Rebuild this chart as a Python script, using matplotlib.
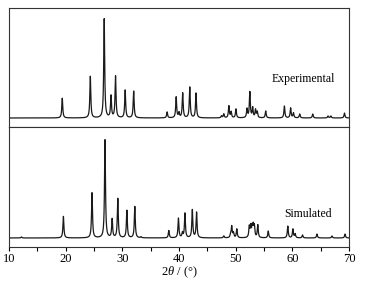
import numpy as np
import matplotlib.pyplot as plt

plt.rcParams['font.family'] = ['Liberation Serif', 'DejaVu Serif']
plt.rcParams['mathtext.fontset'] = 'custom'
plt.rcParams['mathtext.rm'] = 'Liberation Serif'
plt.rcParams['mathtext.it'] = 'Liberation Serif:italic'

# --------- peak lists (2theta, relative height) ---------
exp_pos = [19.4, 24.35, 26.8, 28.0, 28.8, 30.5, 32.0, 37.9, 39.5, 40.0, 40.65, 41.9, 43.0,
           47.5, 47.9, 48.8, 49.2, 50.05, 52.0, 52.5, 53.0, 53.5, 53.8, 55.3,
           58.6, 59.7, 60.2, 61.3, 63.6, 66.3, 66.8, 69.2]
exp_int = [0.20, 0.42, 1.00, 0.22, 0.42, 0.28, 0.27, 0.06, 0.21, 0.05, 0.25, 0.31, 0.25,
           0.02, 0.04, 0.12, 0.06, 0.09, 0.09, 0.26, 0.10, 0.08, 0.06, 0.07,
           0.12, 0.10, 0.05, 0.04, 0.04, 0.02, 0.02, 0.05]

sim_pos = [12.2, 19.6, 24.65, 26.94, 28.2, 29.2, 30.8, 32.2, 33.3, 38.2, 39.9, 40.6, 41.05,
           42.35, 43.1, 47.9, 49.1, 49.3, 49.6, 50.2, 52.4, 52.65, 52.9, 53.1, 53.3,
           53.9, 55.75, 59.2, 60.1, 60.5, 61.8, 64.35, 67.0, 69.3]
sim_int = [0.01, 0.22, 0.46, 1.00, 0.19, 0.40, 0.28, 0.32, 0.01, 0.075, 0.20, 0.05, 0.25,
           0.285, 0.26, 0.02, 0.03, 0.115, 0.05, 0.09, 0.11, 0.11, 0.10, 0.11, 0.11,
           0.13, 0.07, 0.12, 0.09, 0.04, 0.03, 0.04, 0.02, 0.04]

x_ticks = [10, 20, 30, 40, 50, 60, 70]


def profile(tt, positions, heights, fwhm=0.2):
    g = fwhm / 2
    y = np.zeros_like(tt)
    for p, h in zip(positions, heights):
        y += h * g**2 / ((tt - p)**2 + g**2)
    return y


tt = np.linspace(10, 70, 6001)

fig = plt.figure(figsize=(3.66, 2.82), dpi=100)
ax_top = fig.add_axes([9/366, 1 - 127/282, 340/366, 119/282])
ax_bot = fig.add_axes([9/366, 1 - 247/282, 340/366, 120/282])

for ax, pos, inten, label, lx, ly in [(ax_top, exp_pos, exp_int, 'Experimental', 0.865, 0.40),
                                      (ax_bot, sim_pos, sim_int, 'Simulated', 0.879, 0.275)]:
    ax.plot(tt, profile(tt, pos, inten), color='#1a1a1a', lw=0.9)
    ax.set_xlim(10, 70)
    ax.set_yticks([])
    ax.text(lx, ly, label, transform=ax.transAxes, ha='center', va='center', fontsize=8.5)
    for s in ax.spines.values():
        s.set_linewidth(0.8)
        s.set_color('#333333')

ax_top.set_ylim(-0.091, 1.111)
ax_top.set_xticks([])
ax_bot.set_ylim(-0.092, 1.132)
ax_bot.set_xticks(x_ticks)
ax_bot.set_xticks(np.arange(15, 70, 10), minor=True)
ax_bot.tick_params(axis='x', which='both', direction='out', length=3, width=0.8,
                   labelsize=9, pad=1)
ax_bot.set_xlabel(r'2$\theta$ / (°)', fontsize=9, labelpad=0)

fig.savefig('out.png', dpi=100)
